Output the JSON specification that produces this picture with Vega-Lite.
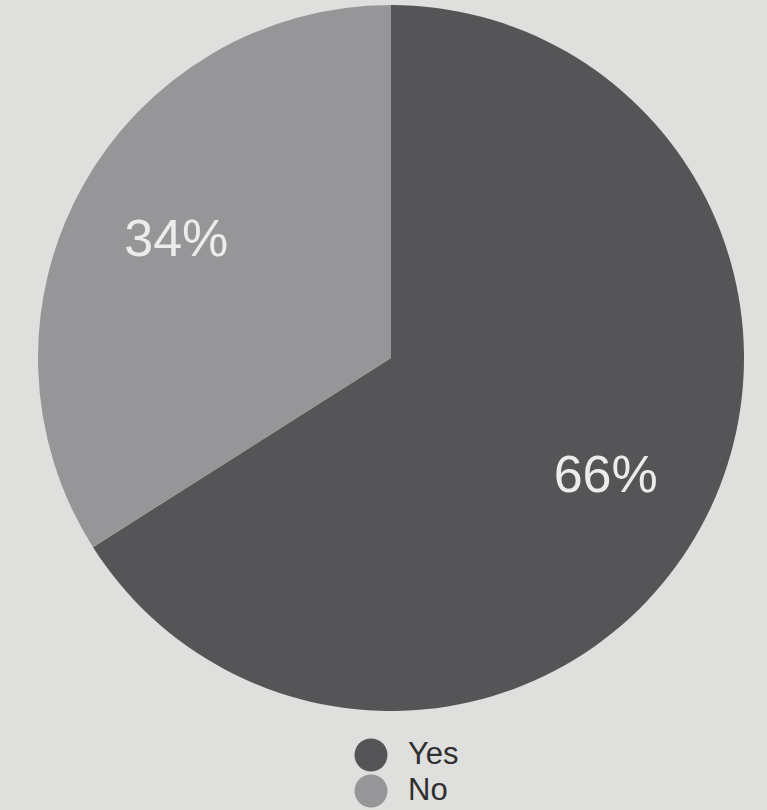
{
  "$schema": "https://vega.github.io/schema/vega-lite/v6.json",
  "width": 752,
  "height": 716,
  "autosize": {"type": "none"},
  "padding": {"left": 15, "top": 0, "right": 0, "bottom": 94},
  "background": "#dfdfdd",
  "config": {"view": {"stroke": null}},
  "data": {"values": [
    {"answer": "Yes", "pct": 66, "label": "66%"},
    {"answer": "No", "pct": 34, "label": "34%"}
  ]},
  "encoding": {
    "theta": {"field": "pct", "type": "quantitative", "stack": true},
    "order": {"field": "pct", "type": "quantitative", "sort": "descending"}
  },
  "layer": [
    {
      "mark": {"type": "arc", "outerRadius": 353},
      "encoding": {
        "color": {
          "field": "answer", "type": "nominal",
          "scale": {"domain": ["Yes", "No"], "range": ["#555557", "#969698"]},
          "legend": {
            "title": null, "orient": "none", "legendX": 339, "legendY": 738,
            "direction": "vertical", "symbolType": "circle", "symbolSize": 1090,
            "symbolStrokeWidth": 0, "labelFontSize": 31, "labelFont": "Liberation Sans",
            "labelColor": "#303030", "labelOffset": 20, "rowPadding": 2, "padding": 0
          }
        }
      }
    },
    {
      "mark": {"type": "text", "radius": 245, "fontSize": 52, "font": "Liberation Sans", "color": "#ececec", "align": "center", "baseline": "middle"},
      "encoding": {"text": {"field": "label", "type": "nominal"}}
    }
  ]
}
